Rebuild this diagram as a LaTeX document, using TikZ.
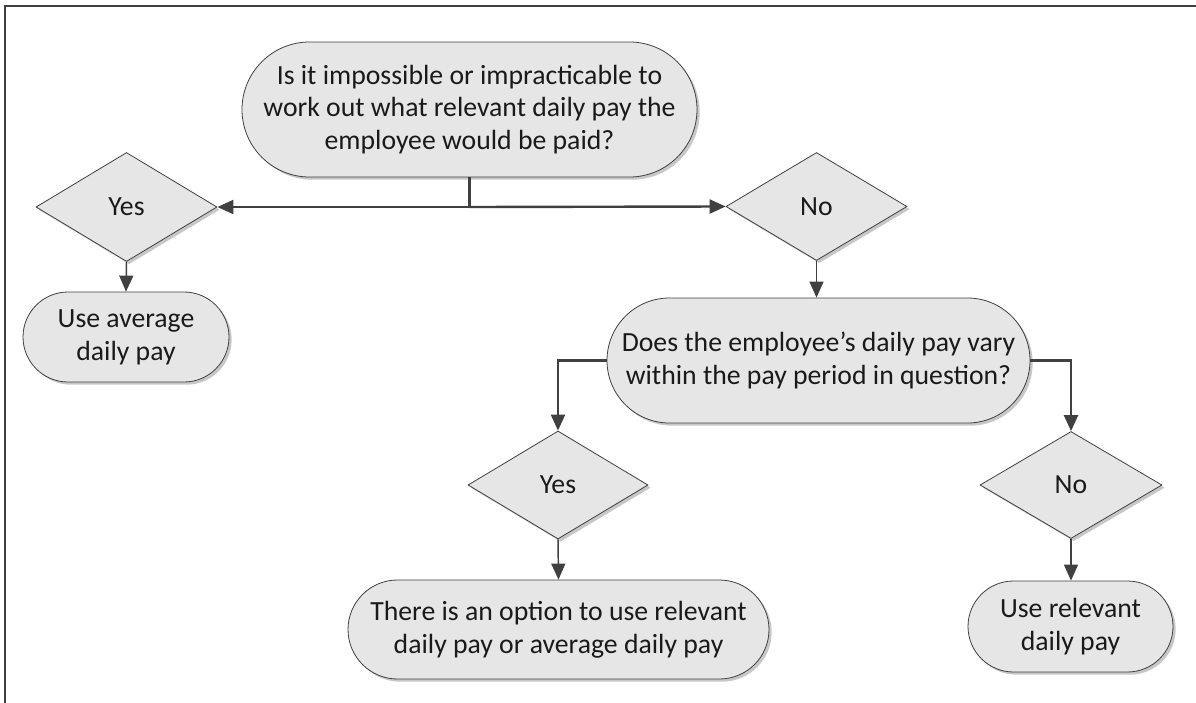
\documentclass[tikz,border=0pt]{standalone}
\usepackage{fontspec}
\setmainfont{Carlito}
\usetikzlibrary{shapes.misc,shapes.geometric,arrows.meta,shadows}
\newdimen\upx
\upx=0.75pt
\definecolor{boxfill}{HTML}{E6E6E6}
\definecolor{edgecol}{HTML}{404040}
\definecolor{txtcol}{HTML}{1A1A1A}
\tikzset{
  base/.style={draw=edgecol, line width=0.6pt, fill=boxfill, text=txtcol,
    font=\fontsize{20.8pt}{24.6pt}\selectfont, align=center, inner sep=0pt,
    drop shadow={shadow xshift=2pt, shadow yshift=-2pt, fill=black!22, opacity=1}},
  stadium/.style={base, rounded rectangle},
  decision/.style={base, diamond},
  conn/.style={draw=edgecol, line width=1.1pt, -{Triangle[length=12pt,width=10.5pt]}},
  connthick/.style={conn, line width=1.8pt},
  framepen/.style={draw=black!75, line width=1.4pt}
}
\begin{document}
\begin{tikzpicture}[x=0.75pt, y=-0.75pt]
\useasboundingbox (0,0) rectangle (1196,703);
\draw[framepen] (5,703) -- (5,6) -- (1196,6);

\node[stadium, minimum width=455\upx, minimum height=135\upx] (q1) at (469.5,109.5)
  {Is it impossible or impracticable to\\work out what relevant daily pay the\\employee would be paid?};
\node[decision, minimum width=181\upx, minimum height=109\upx] (yes1) at (126.5,207) {Yes};
\node[decision, minimum width=181\upx, minimum height=108\upx] (no1) at (816.5,206.5) {No};
\node[stadium, minimum width=206\upx, minimum height=90\upx] (avg) at (126,337) {Use average\\daily pay};
\node[stadium, minimum width=423\upx, minimum height=125\upx] (q2) at (818.5,360.5)
  {Does the employee’s daily pay vary\\within the pay period in question?};
\node[decision, minimum width=180\upx, minimum height=108\upx] (yes2) at (558,485) {Yes};
\node[decision, minimum width=182\upx, minimum height=107\upx] (no2) at (1071,485) {No};
\node[stadium, minimum width=421\upx, minimum height=99\upx] (opt) at (558.5,629.5)
  {There is an option to use relevant\\daily pay or average daily pay};
\node[stadium, minimum width=205\upx, minimum height=91\upx] (rel) at (1070.5,626.5) {Use relevant\\daily pay};

\coordinate (j) at (q1.south |- yes1.east);
\draw[draw=edgecol, line width=1.8pt] (q1.south) -- (j);
\draw[connthick] (j) -- (yes1.east);
\draw[connthick] (j) -- (no1.west);
\draw[conn] (yes1.south) -- (avg.north);
\draw[conn] (no1.south) -- (no1.south |- q2.north);
\draw[connthick] (q2.west) -| (yes2.north);
\draw[connthick] (q2.east) -| (no2.north);
\draw[conn] (yes2.south) -- (opt.north);
\draw[conn] (no2.south) -- (no2.south |- rel.north);
\end{tikzpicture}
\end{document}
